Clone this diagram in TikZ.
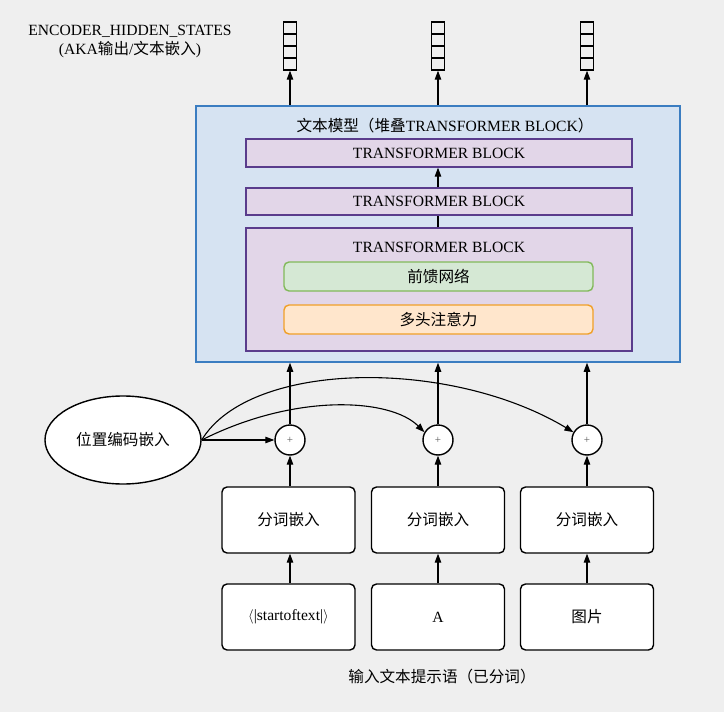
\documentclass[tikz,border=0pt]{standalone}
\usepackage{fontspec}
\setmainfont{Liberation Serif}
\newfontfamily\cjk{Noto Sans CJK SC}
\usetikzlibrary{arrows.meta,shapes.geometric}
\definecolor{bgc}{RGB}{239,239,239}
\definecolor{modelfill}{RGB}{214,227,242}
\definecolor{modeldraw}{RGB}{59,125,193}
\definecolor{tbfill}{RGB}{226,214,232}
\definecolor{tbdraw}{RGB}{90,60,140}
\definecolor{fffill}{RGB}{213,232,212}
\definecolor{ffdraw}{RGB}{130,185,90}
\definecolor{mhfill}{RGB}{255,230,204}
\definecolor{mhdraw}{RGB}{240,160,40}
\newcommand\fsz{\fontsize{15.6}{18}\selectfont}
\tikzset{
  txt/.style={font=\fsz, inner sep=0pt},
  ebox/.style={draw=black, line width=1.4pt, fill=white, rounded corners=5pt, minimum width=133pt, minimum height=66pt, font=\fsz},
  tbbox/.style={draw=tbdraw, line width=1.4pt, fill=tbfill, minimum width=386pt, font=\fsz},
  plusc/.style={circle, draw=black, line width=1.4pt, fill=white, minimum size=30pt, inner sep=0pt, font=\fontsize{11}{11}\selectfont\color{black!65}},
  vec/.style={draw=black, line width=1.4pt, minimum width=13pt, minimum height=48pt, inner sep=0pt,
    path picture={\foreach \k in {1,2,3}{\draw[line width=1.2pt] ([yshift=-12*\k pt]path picture bounding box.north west) -- ([yshift=-12*\k pt]path picture bounding box.north east);}}},
  arr/.style={-{Triangle[length=9pt,width=6.5pt]}, line width=1.1pt},
}
\begin{document}
\begin{tikzpicture}[x=1pt,y=-1pt]
\fill[bgc] (0,0) rectangle (724,712);
\useasboundingbox (0,0) rectangle (724,712);

% header text
\node[txt] (enc) at (130,31) {ENCODER\_HIDDEN\_STATES};
\node[txt] (aka) at (130,50) {(AKA{\cjk 输出}/{\cjk 文本嵌入})};

% output vectors
\node[vec] (v1) at (290,46) {};
\node[vec] (v2) at (438,46) {};
\node[vec] (v3) at (587,46) {};

% model box
\node[draw=modeldraw, line width=1.5pt, fill=modelfill, minimum width=484pt, minimum height=256pt, inner sep=0pt] (model) at (438,234) {};
\node[txt] (title) at (445,126) {{\cjk 文本模型（堆叠}TRANSFORMER BLOCK{\cjk ）}};

\node[tbbox, minimum height=28pt] (tb1) at (439,153) {TRANSFORMER BLOCK};
\node[tbbox, minimum height=27pt] (tb2) at (439,201.5) {TRANSFORMER BLOCK};
\node[tbbox, minimum height=123pt] (tb3) at (439,289.5) {};
\node[txt] (tb3l) at (439,247) {TRANSFORMER BLOCK};
\node[draw=ffdraw, line width=1.4pt, fill=fffill, rounded corners=5pt, minimum width=309pt, minimum height=29pt, font=\cjk\fsz] (ff) at (438.5,276.5) {前馈网络};
\node[draw=mhdraw, line width=1.4pt, fill=mhfill, rounded corners=5pt, minimum width=309pt, minimum height=29pt, font=\cjk\fsz] (mh) at (438.5,319.5) {多头注意力};

\draw[arr] (tb2.north -| 438,0) -- (tb1.south -| 438,0);
\draw[line width=1.1pt] (tb3.north -| 438,0) -- (tb2.south -| 438,0);

\draw[arr] (model.north -| v1) -- (v1.south);
\draw[arr] (model.north -| v2) -- (v2.south);
\draw[arr] (model.north -| v3) -- (v3.south);

% positional encoding
\node[ellipse, draw=black, line width=1.4pt, fill=white, minimum width=156pt, minimum height=88pt, inner sep=0pt, font=\cjk\fsz] (pe) at (123,440) {位置编码嵌入};

\node[plusc] (p1) at (290,440) {+};
\node[plusc] (p2) at (438,440) {+};
\node[plusc] (p3) at (587,440) {+};

\draw[arr] (p1) -- (model.south -| p1);
\draw[arr] (p2) -- (model.south -| p2);
\draw[arr] (p3) -- (model.south -| p3);

\draw[arr] (pe.east) -- (p1.west);
\draw[arr] (pe.east) .. controls (295,393) and (390,398) .. (p2.150);
\draw[arr] (pe.east) .. controls (250,360) and (450,358) .. (p3.150);

% embeddings
\node[ebox] (e1) at (288.5,520) {\cjk 分词嵌入};
\node[ebox] (e2) at (438,520) {\cjk 分词嵌入};
\node[ebox] (e3) at (587,520) {\cjk 分词嵌入};

\node[ebox] (t1) at (288.5,617) {$\langle$|startoftext|$\rangle$};
\node[ebox] (t2) at (438,617) {A};
\node[ebox] (t3) at (587,617) {\cjk 图片};

\draw[arr] (e1.north -| p1) -- (p1.south);
\draw[arr] (e2.north -| p2) -- (p2.south);
\draw[arr] (e3.north -| p3) -- (p3.south);

\draw[arr] (t1.north -| p1) -- (e1.south -| p1);
\draw[arr] (t2.north -| p2) -- (e2.south -| p2);
\draw[arr] (t3.north -| p3) -- (e3.south -| p3);

\node[txt, font=\cjk\fsz] (cap) at (442,677) {输入文本提示语（已分词）};
\end{tikzpicture}
\end{document}
